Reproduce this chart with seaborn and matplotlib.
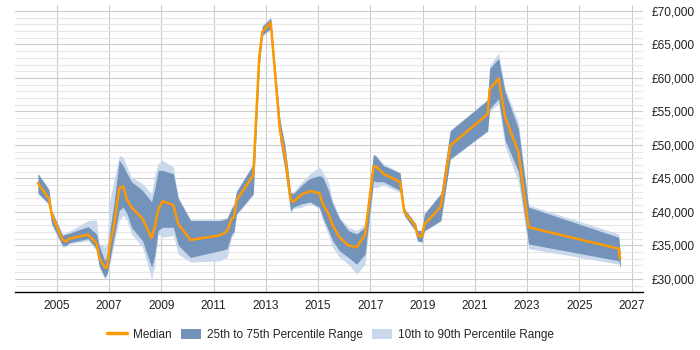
import seaborn as sns
import pandas as pd
import matplotlib
matplotlib.use("Agg")
import matplotlib.pyplot as plt
from matplotlib.ticker import FuncFormatter, MultipleLocator
from matplotlib.patches import Patch
from matplotlib.lines import Line2D

# dates as decimal years
dates = [2004.28, 2004.70, 2004.80, 2005.22, 2005.37, 2005.47, 2006.20, 2006.52, 2006.62, 2006.84,
         2006.93, 2007.03, 2007.18, 2007.39, 2007.54, 2007.69, 2007.86, 2008.28, 2008.63, 2008.75,
         2008.88, 2009.05, 2009.46, 2009.65, 2010.12, 2011.25, 2011.52, 2011.69, 2011.78, 2011.88,
         2012.52, 2012.75, 2012.87, 2013.19, 2013.54, 2013.74, 2013.95, 2014.05, 2014.38, 2014.69,
         2015.05, 2015.18, 2015.40, 2015.56, 2015.82, 2016.16, 2016.48, 2016.80, 2017.12, 2017.22,
         2017.50, 2018.14, 2018.30, 2018.72, 2018.80, 2018.97, 2019.07, 2019.70, 2020.06, 2021.49,
         2021.57, 2021.91, 2022.16, 2022.67, 2023.06, 2026.51, 2026.57]

median = [44300, 41960, 39700, 35800, 35600, 36000, 36600, 35300, 33200, 31700,
          31700, 35200, 37700, 43500, 43800, 41800, 40700, 39000, 36100, 37700,
          40300, 41600, 41000, 38200, 35800, 36500, 37100, 39000, 39200, 41700,
          45500, 63200, 66900, 68250, 52200, 48200, 41800, 41500, 42600, 43100,
          42800, 41200, 39700, 38000, 36200, 35000, 34700, 36600, 46700, 46800,
          45700, 44450, 40000, 38000, 36500, 36300, 38100, 40800, 49900, 54600,
          58300, 59900, 54200, 48900, 37700, 34500, 33000]

p25 = [42800, 41200, 38300, 35000, 35000, 35400, 36000, 34500, 32000, 30200,
       30800, 32700, 36000, 40200, 40700, 39700, 37700, 35700, 31700, 33500,
       37200, 37700, 37700, 35000, 33200, 34200, 34500, 36700, 37000, 39700,
       42700, 61700, 66400, 67400, 50700, 46200, 40200, 40700, 41200, 41500,
       40700, 39200, 37200, 35700, 34200, 33200, 32200, 33700, 44700, 44500,
       44500, 43200, 39500, 37200, 35700, 35500, 37200, 38700, 47900, 52100,
       55400, 56900, 50700, 46000, 35200, 32700, 31700]

p75 = [45700, 43300, 40200, 36500, 36700, 36800, 37800, 36700, 35000, 32700,
       33500, 37200, 41000, 47700, 46900, 45700, 44500, 43200, 41500, 43500,
       46200, 46200, 45700, 42000, 38700, 38700, 39000, 40500, 41000, 43000,
       47100, 64200, 67700, 68900, 53700, 49700, 42900, 42700, 44000, 45000,
       45400, 45200, 43200, 41200, 39000, 37200, 36700, 37700, 48600, 48300,
       46900, 45800, 40500, 38300, 37200, 37200, 39700, 42700, 52100, 56700,
       61400, 62900, 57900, 52400, 40700, 36200, 33500]

p10 = [42700, 41000, 38100, 34700, 34800, 35200, 35700, 34200, 31700, 30000,
       30500, 32200, 35000, 38700, 39500, 38700, 36700, 34700, 30000, 32000,
       36700, 36200, 36500, 33700, 32500, 32700, 33200, 36200, 36600, 39500,
       42500, 61500, 66200, 67200, 50500, 46000, 39700, 40500, 40700, 41200,
       40500, 38700, 36500, 34700, 33200, 32200, 30700, 32200, 43700, 43600,
       44000, 42900, 39400, 37100, 35600, 35400, 37100, 38600, 47800, 52000,
       55000, 56200, 49700, 44500, 34500, 32200, 31600]

p90 = [45800, 43400, 40300, 36700, 36900, 37100, 38700, 38800, 35300, 34700,
       35500, 41700, 44500, 48400, 48200, 46700, 45200, 44200, 42700, 45500,
       47200, 47700, 46700, 42200, 38900, 38900, 39200, 40700, 41200, 43200,
       47200, 64400, 67900, 69100, 53900, 49900, 42900, 42900, 44500, 45700,
       46700, 46000, 44400, 41700, 39200, 37700, 37200, 38200, 48600, 48400,
       47200, 45900, 40600, 38400, 37300, 37300, 39800, 42800, 52200, 56800,
       61900, 63700, 58400, 53400, 41000, 36700, 33700]

df = pd.DataFrame({"date": dates, "median": median, "p25": p25, "p75": p75, "p10": p10, "p90": p90})

dark = "#7393bb"
light = "#c9d9eb"
orange = "#ff9900"

sns.set_style("white")
plt.rcParams['font.family'] = ['Liberation Sans', 'DejaVu Sans']

fig = plt.figure(figsize=(7, 3.5), dpi=100)
ax = fig.add_axes([0.021, 0.166, 0.898, 0.82])

ax.fill_between(df["date"], df["p10"], df["p90"], color=light, linewidth=0, zorder=2)
ax.fill_between(df["date"], df["p25"], df["p75"], color=dark, linewidth=0, zorder=3)
sns.lineplot(data=df, x="date", y="median", color=orange, linewidth=1.8, ax=ax, zorder=4)

ax.set_xlim(2003.39, 2027.45)
ax.set_ylim(28050, 70900)
ax.set_xticks(range(2005, 2028, 2))
ax.yaxis.set_major_locator(MultipleLocator(5000))
ax.yaxis.set_minor_locator(MultipleLocator(1000))
ax.yaxis.tick_right()
ax.yaxis.set_major_formatter(FuncFormatter(lambda v, p: "£{:,.0f}".format(v)))
ax.grid(which="major", axis="both", color="#cccccc", linewidth=0.8, zorder=0)
ax.grid(which="minor", axis="y", color="#e6e6e6", linewidth=0.8, zorder=0)
ax.set_axisbelow(True)
ax.tick_params(axis="both", which="both", length=0, labelsize=8.6, colors="#222222")
ax.tick_params(axis="x", pad=6)
ax.tick_params(axis="y", pad=6)
for s in ["top", "right", "left"]:
    ax.spines[s].set_visible(False)
ax.spines["bottom"].set_color("#000000")
ax.spines["bottom"].set_linewidth(1)
ax.set_xlabel("")
ax.set_ylabel("")

handles = [Line2D([0], [0], color=orange, linewidth=2.5),
           Patch(facecolor=dark, edgecolor="none"),
           Patch(facecolor=light, edgecolor="none")]
labels = ["Median", "25th to 75th Percentile Range", "10th to 90th Percentile Range"]
fig.legend(handles, labels, loc="center", bbox_to_anchor=(0.472, 0.043), ncol=3, frameon=False,
           fontsize=8.5, handlelength=1.7, handleheight=1.0, columnspacing=0.8, handletextpad=0.5)

fig.savefig("out.png", dpi=100)
